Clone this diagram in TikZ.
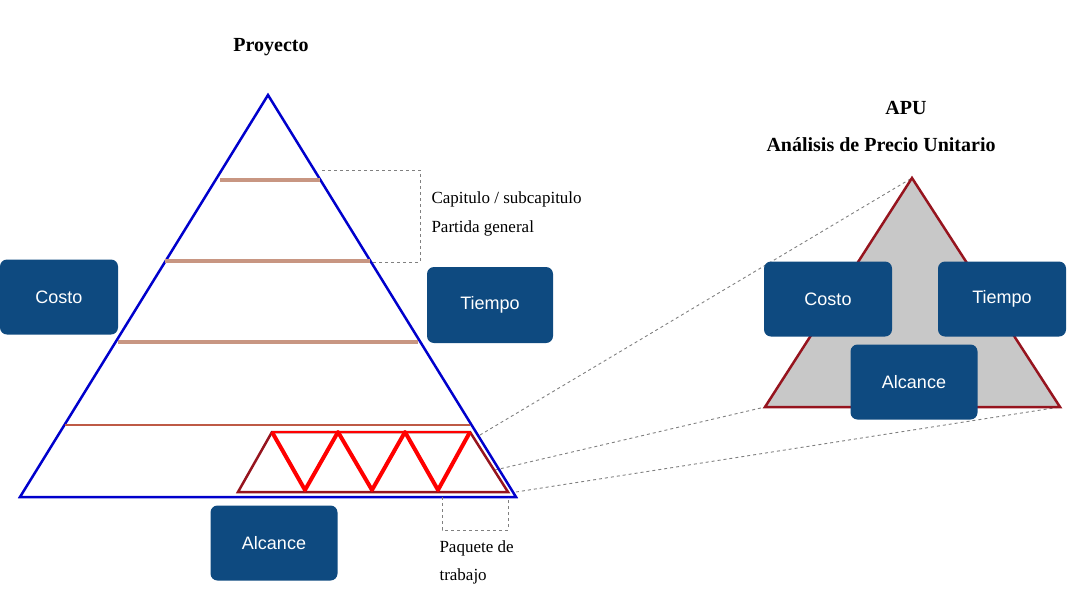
\documentclass[tikz,border=0pt]{standalone}
\usepackage{fontspec}
\setmainfont{Liberation Serif}
\setsansfont{Liberation Sans}
\definecolor{dred}{RGB}{150,20,30}
\definecolor{boxb}{RGB}{14,74,128}
\definecolor{lvlc}{RGB}{200,150,130}
\definecolor{lvl4}{RGB}{190,90,70}
\definecolor{gfill}{RGB}{200,200,200}
\begin{document}
\begin{tikzpicture}[x=1pt,y=-1pt,
 bx/.style={fill=boxb,rounded corners=7pt,text=white,font=\sffamily\fontsize{18}{20}\selectfont},
 lvl/.style={draw=lvlc,line width=3.5pt},
 dsh/.style={draw=gray,dashed,line width=0.9pt},
 ttl/.style={font=\bfseries\fontsize{20}{24}\selectfont},
 lab/.style={font=\fontsize{17}{20}\selectfont,anchor=west}]
\useasboundingbox (0,0) rectangle (1080,600);
\clip (0,0) rectangle (1080,600);
\coordinate (z1) at (480,435); \coordinate (z2) at (495,470); \coordinate (z3) at (516,492);
\coordinate (a1) at (912,178); \coordinate (a2) at (765,407); \coordinate (a3) at (1060,407);
\draw[dsh] (z1)--(a1); \draw[dsh] (z2)--(a2); \draw[dsh] (z3)--(a3);
\draw[blue!80!black,line width=2.5pt] (268,95)--(516,497)--(20,497)--cycle;
\draw[lvl] (220,180)--(320,180);
\draw[lvl] (165,261)--(370,261);
\draw[lvl] (118,342)--(418,342);
\draw[draw=lvl4,line width=2.5pt] (65,425)--(470,425);
\draw[dsh] (322,170)--(420,170)--(420,262)--(372,262);
\node[lab] (cap) at (428,199) {Capitulo / subcapitulo};
\node[lab] (par) at (428,228) {Partida general};
\draw[dred,line width=2.5pt] (238,492)--(272,432)--(470,432)--(508,492)--cycle;
\draw[red,line width=4pt,line join=round] (272,432)--(305,490)--(338,432)--(372,490)--(405,432)--(438,490)--(470,432);
\draw[red,line width=2.5pt] (272,432)--(470,432);
\draw[dsh] (442,497)--(442,530)--(508,530)--(508,497);
\node[lab] (paq) at (436,548) {Paquete de};
\node[lab] (tra) at (436,576) {trabajo};
\node[bx,minimum width=118pt,minimum height=75pt] (c1) at (59,297) {Costo};
\node[bx,minimum width=126pt,minimum height=76pt] (t1) at (490,305) {Tiempo};
\node[bx,minimum width=127pt,minimum height=75pt] (al1) at (274,543) {Alcance};
\node[ttl] (proy) at (271,47) {Proyecto};
\draw[fill=gfill,draw=dred,line width=2.5pt] (a1)--(a3)--(a2)--cycle;
\node[bx,minimum width=128pt,minimum height=75pt] (c2) at (828,299) {Costo};
\node[bx,minimum width=128pt,minimum height=75pt] (t2) at (1002,299) {Tiempo};
\node[bx,minimum width=127pt,minimum height=75pt] (al2) at (914,382) {Alcance};
\node[ttl] (apu) at (906,108) {APU};
\node[ttl,anchor=west] (apa) at (763,145) {Análisis de Precio Unitario};
\end{tikzpicture}
\end{document}
